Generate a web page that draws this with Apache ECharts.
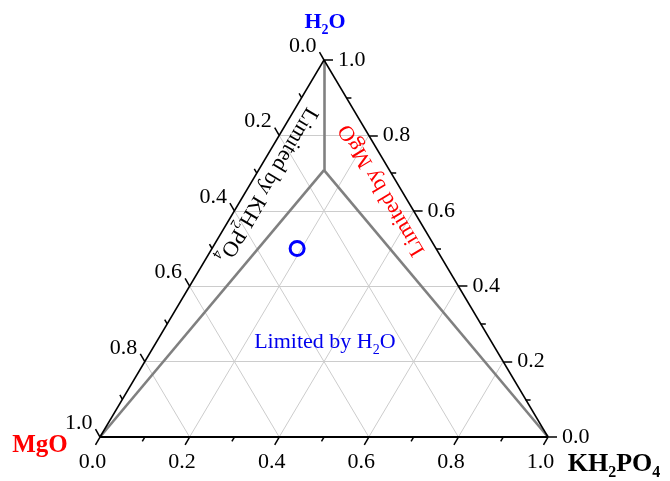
<!DOCTYPE html>
<html><head><meta charset="utf-8">
<script src="https://cdn.jsdelivr.net/npm/echarts@6/dist/echarts.min.js"></script>
<style>html,body{margin:0;padding:0;background:#fff}#c{width:670px;height:481px}</style>
</head><body><div id="c"></div>
<script>
// Ternary compositions are given as [MgO, KH2PO4, H2O]
const tickValues = [0, 0.2, 0.4, 0.6, 0.8, 1.0];
const tickLabels = ['0.0', '0.2', '0.4', '0.6', '0.8', '1.0'];
const minorTickValues = [0.1, 0.3, 0.5, 0.7, 0.9];
const gridValues = [0.2, 0.4, 0.6, 0.8];
const vertexMgO = [1, 0, 0];
const vertexKH2PO4 = [0, 1, 0];
const vertexH2O = [0, 0, 1];
const junctionPoint = [0.146, 0.146, 0.708];
const samplePoints = [[0.31, 0.19, 0.50]];

// ---- layout (pixels) ----
const W = 670, H = 481;
const X0px = 100, X1px = 548, Y0px = 437, Y1px = 60;
const sx = X1px - X0px, sy = Y0px - Y1px;
const xMin = -X0px / sx, xMax = (W - X0px) / sx;
const yMin = -(H - Y0px) / sy, yMax = Y0px / sy;
const FONT = 'Liberation Serif';

function tern(p) { return [p[1] + p[2] / 2, p[2]]; }
function off(pt, dx, dy) { return [pt[0] + dx / sx, pt[1] - dy / sy]; }
function px2d(x, y) { return [(x - X0px) / sx, (Y0px - y) / sy]; }

const edgeAngle = Math.atan2(sy, sx / 2) * 180 / Math.PI; // ~59.3

const axes = [
  { point: v => tern([1 - v, v, 0]), dir: [-0.5, 0.866],
    label: { position: 'bottom', distance: 6, offset: [-3, 0] } },
  { point: v => tern([v, 0, 1 - v]), dir: [-0.5, -0.866],
    label: { position: 'left', distance: 3, offset: [0, -6] } },
  { point: v => tern([0, 1 - v, v]), dir: [1, 0],
    label: { position: 'right', distance: 5, offset: [0, 0] } }
];

const gridLines = [];
gridValues.forEach(v => {
  gridLines.push({ coords: [tern([1 - v, 0, v]), tern([0, 1 - v, v])] });
  gridLines.push({ coords: [tern([v, 0, 1 - v]), tern([v, 1 - v, 0])] });
  gridLines.push({ coords: [tern([1 - v, v, 0]), tern([0, v, 1 - v])] });
});
const edgeLines = [
  { coords: [tern(vertexMgO), tern(vertexKH2PO4)], lineStyle: { width: 2 } },
  { coords: [tern(vertexMgO), tern(vertexH2O)] },
  { coords: [tern(vertexKH2PO4), tern(vertexH2O)] }
];
const boundLines = [
  { coords: [tern(vertexH2O), tern(junctionPoint)] },
  { coords: [tern(junctionPoint), tern(vertexMgO)] },
  { coords: [tern(junctionPoint), tern(vertexKH2PO4)] }
];
const tickLines = [];
const labelSeries = [];
axes.forEach(ax => {
  const data = [];
  tickValues.forEach((v, i) => {
    const p = ax.point(v);
    const e = off(p, ax.dir[0] * 9, ax.dir[1] * 9);
    tickLines.push({ coords: [p, e] });
    data.push({ value: e, name: tickLabels[i] });
  });
  minorTickValues.forEach(v => {
    const p = ax.point(v);
    tickLines.push({ coords: [p, off(p, ax.dir[0] * 5, ax.dir[1] * 5)] });
  });
  labelSeries.push({
    type: 'scatter', silent: true, symbolSize: 0, data: data,
    itemStyle: { color: 'rgba(0,0,0,0)', opacity: 1 },
    label: Object.assign({ show: true, formatter: '{b}', color: '#000', opacity: 1,
      fontFamily: FONT, fontSize: 22 }, ax.label)
  });
});

function rich(color, size, bold, subSize, lh) {
  const w = bold ? 'bold' : 'normal';
  return {
    n: { color: color, fontFamily: FONT, fontSize: size, fontWeight: w, lineHeight: lh },
    s: { color: color, fontFamily: FONT, fontSize: subSize, fontWeight: w, lineHeight: subSize, verticalAlign: 'bottom' }
  };
}

const annotations = [
  { pos: px2d(325, 22), text: '{n|H}{s|2}{n|O}', rich: rich('#0000ff', 22, true, 14, 30), rotate: 0 },
  { pos: px2d(40, 446), text: '{n|MgO}', rich: rich('#ff0000', 25, true, 15, 30), rotate: 0 },
  { pos: px2d(614, 464), text: '{n|KH}{s|2}{n|PO}{s|4}', rich: rich('#000000', 26, true, 16, 34), rotate: 0 },
  { pos: tern([0.372, 0.376, 0.252]), text: '{n|Limited by H}{s|2}{n|O}', rich: rich('#0000ee', 22, false, 14, 30), rotate: 0 },
  { pos: tern([0.293, 0.039, 0.668]), text: '{n|Limited by KH}{s|2}{n|PO}{s|4}', rich: rich('#000000', 22, false, 14, 30), rotate: -(180 - edgeAngle) },
  { pos: tern([0.043, 0.302, 0.655]), text: '{n|Limited by MgO}', rich: rich('#ff0000', 22, false, 14, 26), rotate: (180 - edgeAngle) }
];

const option = {
  animation: false,
  grid: { left: 0, right: 0, top: 0, bottom: 0 },
  xAxis: { type: 'value', min: xMin, max: xMax, show: false },
  yAxis: { type: 'value', min: yMin, max: yMax, show: false },
  series: [
    { type: 'lines', coordinateSystem: 'cartesian2d', silent: true, data: gridLines,
      lineStyle: { color: '#cccccc', width: 1, opacity: 1, curveness: 0 } },
    { type: 'lines', coordinateSystem: 'cartesian2d', silent: true, data: boundLines,
      lineStyle: { color: '#808080', width: 2.6, opacity: 1, curveness: 0 } },
    { type: 'lines', coordinateSystem: 'cartesian2d', silent: true, data: edgeLines,
      lineStyle: { color: '#000', width: 1.5, opacity: 1, curveness: 0 } },
    { type: 'lines', coordinateSystem: 'cartesian2d', silent: true, data: tickLines,
      lineStyle: { color: '#000', width: 1.5, opacity: 1, curveness: 0 } },
    { type: 'scatter', silent: true, symbol: 'circle', symbolSize: 14,
      data: samplePoints.map(tern),
      itemStyle: { color: 'rgba(255,255,255,0)', borderColor: '#0000ff', borderWidth: 3, opacity: 1 } },
    ...labelSeries,
    { type: 'scatter', silent: true, symbolSize: 0, itemStyle: { color: 'rgba(0,0,0,0)', opacity: 1 },
      data: annotations.map(a => ({
        value: a.pos,
        label: { show: true, position: 'inside', formatter: a.text, rich: a.rich, rotate: a.rotate,
          align: 'center', verticalAlign: 'middle', opacity: 1 }
      })) }
  ]
};
const chart = echarts.init(document.getElementById('c'), null, { renderer: 'canvas' });
chart.setOption(option);
</script>
</body></html>
